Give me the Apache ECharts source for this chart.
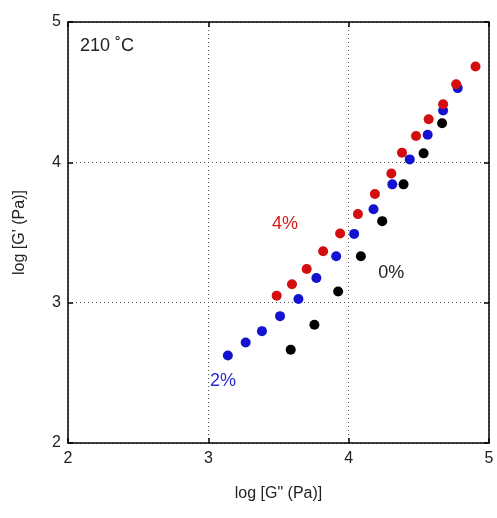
<!DOCTYPE html>
<html lang="en">
<head>
<meta charset="UTF-8">
<title>log G' vs log G''</title>
<script src="https://cdn.jsdelivr.net/npm/echarts@6/dist/echarts.min.js"></script>
<style>
  html, body { margin: 0; padding: 0; background: #fff; }
  #chart { width: 497px; height: 518px; }
</style>
</head>
<body>
<div id="chart"></div>
<script>
// data: [log G'', log G']
var black0 = [
  [3.587, 2.665], [3.756, 2.843], [3.925, 3.079], [4.087, 3.331],
  [4.239, 3.581], [4.391, 3.843], [4.534, 4.064], [4.666, 4.279]
];
var blue2 = [
  [3.139, 2.624], [3.266, 2.716], [3.382, 2.797], [3.511, 2.904],
  [3.642, 3.026], [3.770, 3.176], [3.911, 3.331], [4.039, 3.490],
  [4.177, 3.666], [4.311, 3.843], [4.435, 4.021], [4.563, 4.197],
  [4.673, 4.369], [4.777, 4.529]
];
var red4 = [
  [3.487, 3.050], [3.596, 3.131], [3.701, 3.240], [3.818, 3.366],
  [3.939, 3.493], [4.066, 3.631], [4.187, 3.774], [4.304, 3.921],
  [4.380, 4.069], [4.480, 4.188], [4.570, 4.307], [4.673, 4.414],
  [4.766, 4.557], [4.904, 4.683]
];

// text labels placed in data coordinates
var notes = [
  { text: '210 \u02DAC', at: [2.085, 4.83], color: '#222', align: 'left' },
  { text: '4%', at: [3.546, 3.56], color: '#d61a1a', align: 'center' },
  { text: '0%', at: [4.304, 3.21], color: '#222', align: 'center' },
  { text: '2%', at: [3.104, 2.445], color: '#2b2bd0', align: 'center' }
];

var font = 'Liberation Sans, Arial, sans-serif';

var chart = echarts.init(document.getElementById('chart'));

function axisBase(extra) {
  var a = {
    type: 'value', min: 2, max: 5, interval: 1,
    axisLine: { show: true, onZero: false, lineStyle: { color: '#000', width: 1.5 } },
    axisTick: { show: true, inside: true, length: 5, lineStyle: { color: '#000', width: 1.5 } },
    splitLine: { show: false },
    axisLabel: { show: false }
  };
  for (var k in extra) a[k] = extra[k];
  return a;
}

var option = {
  animation: false,
  backgroundColor: '#fff',
  grid: { left: 68, top: 22, width: 421, height: 421 },
  xAxis: [
    axisBase({
      position: 'bottom',
      name: 'log [G" (Pa)]', nameLocation: 'middle', nameGap: 43,
      nameTextStyle: { fontFamily: font, fontSize: 16, color: '#222' },
      axisLabel: { show: true, margin: 8, fontFamily: font, fontSize: 16, color: '#222' },
      splitLine: { show: true, lineStyle: { color: '#555', type: [1, 3], width: 1 } }
    }),
    axisBase({ position: 'top' })
  ],
  yAxis: [
    axisBase({
      position: 'left',
      name: "log [G' (Pa)]", nameLocation: 'middle', nameGap: 40,
      nameTextStyle: { fontFamily: font, fontSize: 16, color: '#222' },
      axisLabel: { show: true, margin: 7, fontFamily: font, fontSize: 16, color: '#222' },
      splitLine: { show: true, lineStyle: { color: '#555', type: [1, 3], width: 1 } }
    }),
    axisBase({ position: 'right' })
  ],
  series: [
    { name: '0%', type: 'scatter', data: black0, symbolSize: 10,
      itemStyle: { color: '#000', opacity: 1 } },
    { name: '2%', type: 'scatter', data: blue2, symbolSize: 10,
      itemStyle: { color: '#1212d0', opacity: 1 } },
    { name: '4%', type: 'scatter', data: red4, symbolSize: 10,
      itemStyle: { color: '#d40e0e', opacity: 1 } }
  ]
};

chart.setOption(option);

var texts = notes.map(function (n) {
  var p = chart.convertToPixel({ xAxisIndex: 0, yAxisIndex: 0 }, n.at);
  return {
    type: 'text', x: p[0], y: p[1],
    style: {
      text: n.text, fill: n.color, font: '18px ' + font,
      textAlign: n.align, textVerticalAlign: 'middle'
    }
  };
});
chart.setOption({ graphic: texts });
</script>
</body>
</html>
